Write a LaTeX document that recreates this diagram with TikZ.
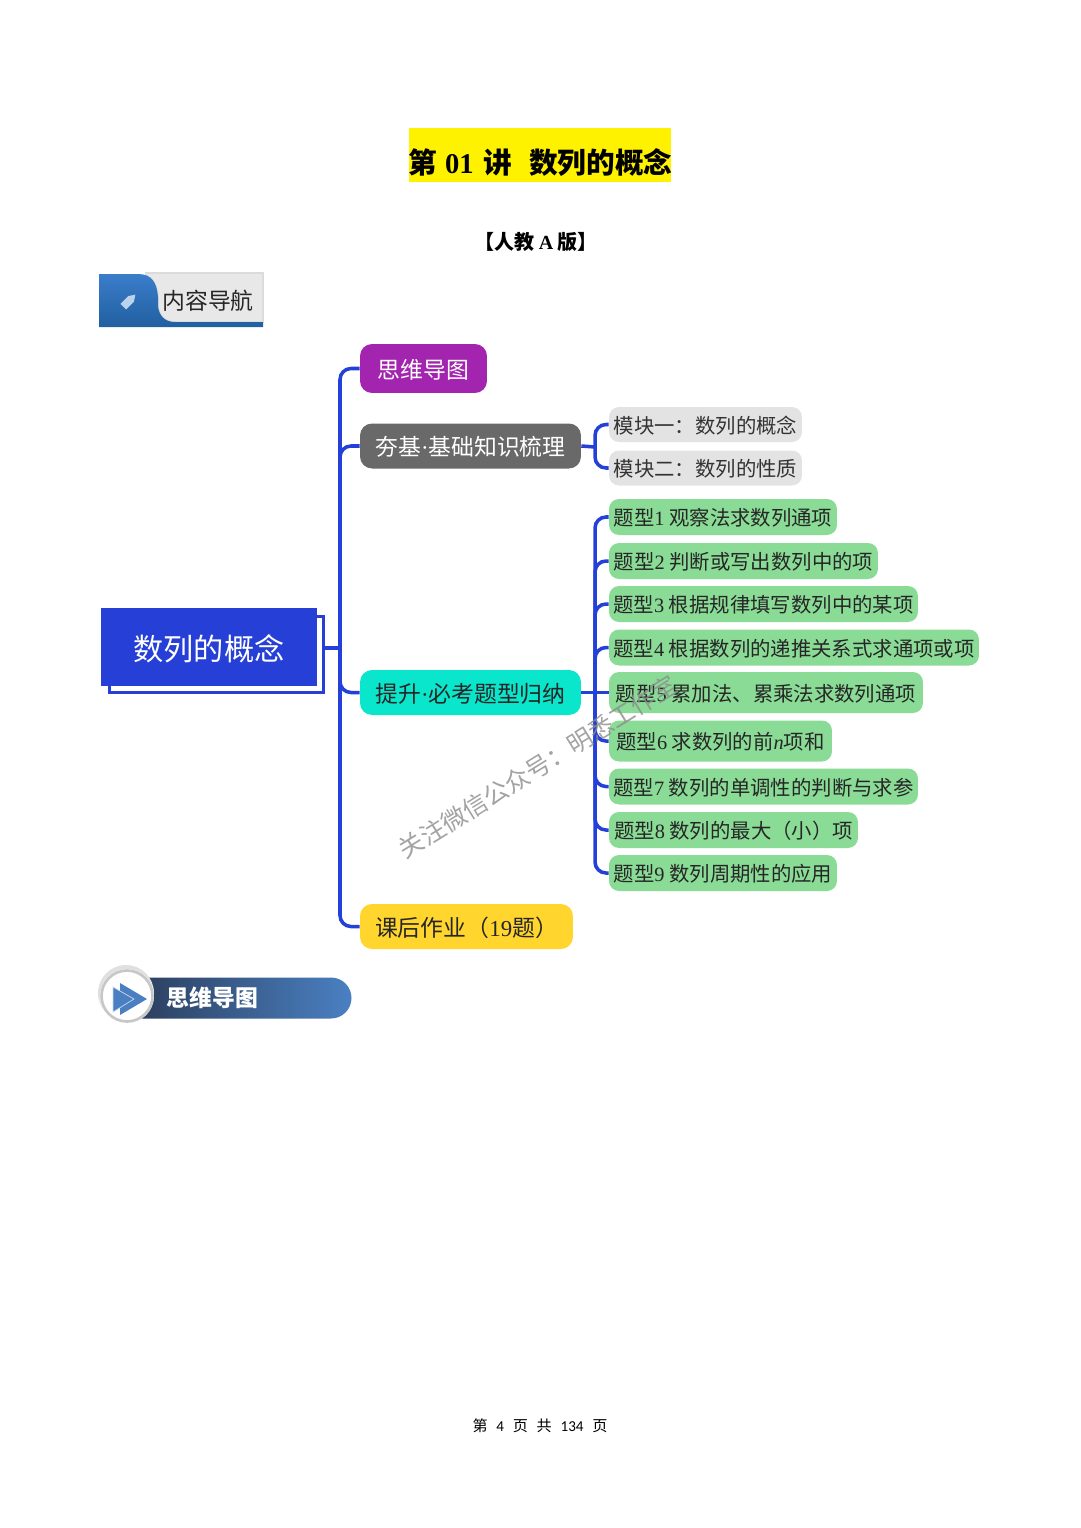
\documentclass[tikz,border=0pt]{standalone}
\usepackage{fontspec}
\setmainfont{Noto Sans CJK SC}
\newfontfamily\tnr{Liberation Serif}
\newfontfamily\foot{Carlito}
\usetikzlibrary{positioning, calc, shapes.geometric}
\definecolor{linkblue}{HTML}{2440D8}
\definecolor{rootblue}{HTML}{263FD6}
\definecolor{purplebox}{HTML}{A324AE}
\definecolor{greybox}{HTML}{696969}
\definecolor{tealbox}{HTML}{0AE6CC}
\definecolor{yellowbox}{HTML}{FFD52E}
\definecolor{greenbox}{HTML}{8ADB96}
\definecolor{mutedbox}{HTML}{E3E3E3}
\definecolor{navtop}{HTML}{3A7DCA}
\definecolor{navbottom}{HTML}{215FA0}
\definecolor{badgedark}{HTML}{2B3D5B}
\definecolor{badgeblue}{HTML}{4A80C2}

\begin{document}
\begin{tikzpicture}[
    x=0.02cm, y=-0.02cm,
    topbox/.style={rounded corners=2.4mm, minimum height=0.9cm, inner sep=0pt, text height=13pt, text depth=2pt, font=\fontsize{13}{15}\selectfont},
    modbox/.style={fill=mutedbox, rounded corners=2mm, minimum height=0.7cm, minimum width=3.86cm, inner sep=0pt, text height=11.8pt, text depth=2pt, font=\fontsize{11.6}{14}\selectfont, text=black!80},
    typebox/.style={fill=greenbox, rounded corners=2mm, minimum height=0.72cm, inner sep=0pt, text height=11.8pt, text depth=2pt, font=\fontsize{11.6}{14}\selectfont, text=black!85},
    link/.style={draw=linkblue, line width=2pt, rounded corners=2.2mm}
]
    \useasboundingbox (0,0) rectangle (1080,1528);

    % title block
    \node[fill=yellow, minimum width=5.24cm, minimum height=1.08cm, inner sep=0pt] (title) at (540,155) {};
    \node[font=\fontsize{16.3}{20}\selectfont\bfseries] (titletext) at (540.5,163) {第\hspace{4.5pt}{\tnr\bfseries 01}\hspace{5.7pt}讲\hspace{9.6pt}数列的概念};
    \node[font=\fontsize{11.4}{14}\selectfont\bfseries] (edition) at (536,242) {【人教 {\tnr\bfseries A} 版】};

    % heading with the tag
    \fill[black!14] (145,272) rectangle (264,323);
    \shade[top color=navtop, bottom color=navbottom]
        (99,274) -- (138,274) .. controls (152,274) and (157,283) .. (158,297) -- (158,306) .. controls (159,316) and (165,322) .. (175,322) -- (263,322) -- (263,327) -- (99,327) -- cycle;
    \fill[black!9] (160,274) -- (262,274) -- (262,321) -- (175,321) .. controls (165,321) and (160,315) .. (159,306) -- (159,297) .. controls (158,285) and (154,278) .. (146,274) -- cycle;
    \fill[white!65!navtop, rotate around={45:(129,301)}] (121,297) -- (132,297) -- (138,301) -- (132,305) -- (121,305) -- cycle;
    \node[font=\fontsize{13}{15}\selectfont, text=black!85] (navlabel) at (208,301) {内容导航};

    % map
    \coordinate (busone) at (340,648);
    \coordinate (bustwo) at (595,693);
    \coordinate (busmod) at (595,447);

    \node[draw=rootblue, line width=1.4pt, fill=white, minimum width=4.28cm, minimum height=1.52cm] (rootback) at (216.5,654.5) {};
    \node[fill=rootblue, text=white, minimum width=4.32cm, minimum height=1.56cm, inner sep=0pt, text height=17.6pt, text depth=2.2pt, font=\fontsize{17.2}{20}\selectfont] (root) at (209,647) {数列的概念};

    \node[topbox, fill=purplebox, text=white, minimum width=2.54cm, minimum height=0.98cm] (mind) at (423.5,368.5) {思维导图};
    \node[topbox, fill=greybox, text=white, minimum width=4.42cm] (base) at (470.5,446) {夯基{\tnr ·}基础知识梳理};
    \node[topbox, fill=tealbox, text=black!85, minimum width=4.42cm] (types) at (470.5,692.5) {提升{\tnr ·}必考题型归纳};
    \node[topbox, fill=yellowbox, text=black!85, minimum width=4.26cm] (homework) at (466.5,926.5) {课后作业（{\tnr 19}题）};

    \node[modbox] (modone) at (705.5,424.5) {模块一：数列的概念};
    \node[modbox] (modtwo) at (705.5,468) {模块二：数列的性质};

    \node[typebox, minimum width=4.56cm] (tone) at (723,517) {题型{\tnr 1} 观察法求数列通项};
    \node[typebox, minimum width=5.38cm] (ttwo) at (743.5,561) {题型{\tnr 2} 判断或写出数列中的项};
    \node[typebox, minimum width=6.18cm] (tthree) at (763.5,604) {题型{\tnr 3} 根据规律填写数列中的某项};
    \node[typebox, minimum width=7.40cm] (tfour) at (794,647.5) {题型{\tnr 4} 根据数列的递推关系式求通项或项};
    \node[typebox, minimum width=6.28cm, minimum height=0.82cm] (tfive) at (766,692.5) {题型{\tnr 5} 累加法、累乘法求数列通项};
    \node[typebox, minimum width=4.46cm, minimum height=0.82cm] (tsix) at (720.5,741) {题型{\tnr 6} 求数列的前{\tnr\itshape n}项和};
    \node[typebox, minimum width=6.18cm] (tseven) at (763.5,786.5) {题型{\tnr 7} 数列的单调性的判断与求参};
    \node[typebox, minimum width=4.98cm] (teight) at (733.5,830) {题型{\tnr 8} 数列的最大（小）项};
    \node[typebox, minimum width=4.56cm] (tnine) at (723,873) {题型{\tnr 9} 数列周期性的应用};

    \draw[link] (rootback.east |- busone) -- (busone);
    \draw[link] (busone) |- (mind.west);
    \draw[link] (busone) |- (base.west);
    \draw[link] (busone) |- (types.west);
    \draw[link] (busone) |- (homework.west);

    \draw[link] (base.east) -- (busmod);
    \draw[link] (busmod) |- (modone.west);
    \draw[link] (busmod) |- (modtwo.west);

    \draw[link] (types.east) -- (tfive.west);
    \draw[link] (bustwo) |- (tone.west);
    \draw[link] (bustwo) |- (ttwo.west);
    \draw[link] (bustwo) |- (tthree.west);
    \draw[link] (bustwo) |- (tfour.west);
    \draw[link] (bustwo) |- (tsix.west);
    \draw[link] (bustwo) |- (tseven.west);
    \draw[link] (bustwo) |- (teight.west);
    \draw[link] (bustwo) |- (tnine.west);

    % section badge
    \shade[left color=badgedark, right color=badgeblue]
        (130,977.5) -- (331,977.5) arc (-90:90:20.5) -- (130,1018.5) -- cycle;
    \node[text=white, font=\fontsize{13}{15}\selectfont\bfseries] (badgelabel) at (212.5,998) {思维导图};
    \fill[black!12] (126,993) circle (28);
    \fill[white] (127,996) circle (27);
    \draw[black!22, line width=1.5pt] (127,996) circle (25.5);
    \fill[badgeblue] (120,983) -- (147,999) -- (120,1015) -- cycle;
    \fill[badgeblue, draw=white!70!badgeblue, line width=0.4pt] (113,987) -- (134,999) -- (113,1012) -- cycle;

    % watermark
    \node[rotate=31.7, text=black!45, opacity=0.8, font=\fontsize{14.1}{18}\selectfont] (mark) at (538,767) {关注微信公众号：明悉工作室};

    % footer
    \node[font=\fontsize{8.6}{10}\selectfont] (pagefoot) at (540,1426) {第\hspace{5pt}{\foot 4}\hspace{5pt}页\hspace{5pt}共\hspace{5pt}{\foot 134}\hspace{5pt}页};
\end{tikzpicture}
\end{document}
